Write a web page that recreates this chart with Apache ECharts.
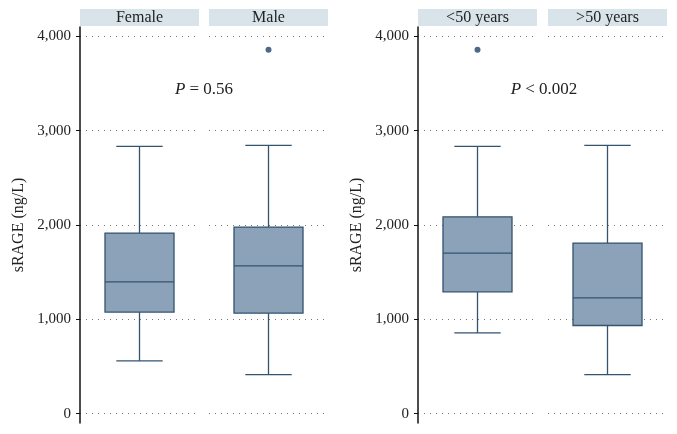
<!DOCTYPE html>
<html>
<head>
<meta charset="utf-8">
<script src="https://cdn.jsdelivr.net/npm/echarts@6/dist/echarts.min.js"></script>
<style>
  html, body { margin: 0; padding: 0; background: #fff; }
  #main { width: 677px; height: 434px; }
</style>
</head>
<body>
<div id="main"></div>
<script>
// groups (one facet each)
var groups = ['Female', 'Male', '<50 years', '>50 years'];
// box stats (ng/L)
var lowWhisker  = [559, 414, 856, 414];
var lowerQuart  = [1076, 1065, 1291, 934];
var medians     = [1397, 1567, 1702, 1228];
var upperQuart  = [1914, 1978, 2087, 1808];
var highWhisker = [2833, 2844, 2833, 2844];
// outliers: [group index, value]
var outliers = [[1, 3859], [2, 3859]];
var yTicks = [0, 1000, 2000, 3000, 4000];
var pLabels = ['{i|P} = 0.56', '{i|P} < 0.002'];

var boxFill = '#8ca2b8';
var boxLine = '#33536f';
var font = '"Liberation Serif", "DejaVu Serif", serif';

var myChart = echarts.init(document.getElementById('main'));

// facet left edges, width of each facet
var lefts = [80, 209, 418, 548];
var facetW = 119;

var grids = [], xAxes = [], yAxes = [], series = [];
for (let i = 0; i < groups.length; i++) {
  grids.push({ left: lefts[i], width: facetW, top: 27, bottom: 11 });
  xAxes.push({
    gridIndex: i,
    type: 'category',
    position: 'top',
    data: [groups[i]],
    axisLine: { show: false },
    axisTick: { show: false },
    axisLabel: {
      margin: 1,
      fontFamily: font,
      fontSize: 16,
      color: '#222',
      width: facetW,
      lineHeight: 17,
      align: 'center',
      backgroundColor: '#d8e4ea'
    }
  });
  let first = (i % 2 === 0);
  yAxes.push({
    gridIndex: i,
    type: 'value',
    min: -100,
    max: 4100,
    name: first ? 'sRAGE (ng/L)' : '',
    nameLocation: 'middle',
    nameRotate: 90,
    nameGap: 53,
    nameTextStyle: { fontFamily: font, fontSize: 16, color: '#222' },
    axisLine: { show: first, lineStyle: { color: '#111', width: 1.5 } },
    axisTick: { show: first, length: 4, customValues: yTicks, lineStyle: { color: '#111' } },
    axisLabel: {
      show: first,
      customValues: yTicks,
      margin: 9,
      fontFamily: font,
      fontSize: 15,
      color: '#222',
      formatter: function (v) { return v.toLocaleString('en-US'); }
    },
    splitLine: {
      show: true,
      lineStyle: { color: '#777', type: [1, 5], width: 1 }
    }
  });

  // box: [cat, low, q1, med, q3, high]
  series.push({
    type: 'custom',
    xAxisIndex: i,
    yAxisIndex: i,
    data: [[0, lowWhisker[i], lowerQuart[i], medians[i], upperQuart[i], highWhisker[i]]],
    renderItem: function (params, api) {
      var x = api.coord([0, 0])[0];
      var band = api.size([1, 0])[0];
      var bw = band * 0.58, cw = band * 0.39;
      var yLow = api.coord([0, api.value(1)])[1];
      var yQ1 = api.coord([0, api.value(2)])[1];
      var yMed = api.coord([0, api.value(3)])[1];
      var yQ3 = api.coord([0, api.value(4)])[1];
      var yHigh = api.coord([0, api.value(5)])[1];
      var ls = { stroke: boxLine, lineWidth: 1.3 };
      return {
        type: 'group',
        children: [
          { type: 'line', shape: { x1: x, y1: yHigh, x2: x, y2: yQ3 }, style: ls },
          { type: 'line', shape: { x1: x, y1: yQ1, x2: x, y2: yLow }, style: ls },
          { type: 'line', shape: { x1: x - cw / 2, y1: yHigh, x2: x + cw / 2, y2: yHigh }, style: ls },
          { type: 'line', shape: { x1: x - cw / 2, y1: yLow, x2: x + cw / 2, y2: yLow }, style: ls },
          { type: 'rect', shape: { x: x - bw / 2, y: yQ3, width: bw, height: yQ1 - yQ3 },
            style: { fill: boxFill, stroke: boxLine, lineWidth: 1.3 } },
          { type: 'line', shape: { x1: x - bw / 2, y1: yMed, x2: x + bw / 2, y2: yMed }, style: ls }
        ]
      };
    }
  });

  var outs = outliers.filter(function (o) { return o[0] === i; })
    .map(function (o) { return [0, o[1]]; });
  series.push({
    type: 'scatter',
    xAxisIndex: i,
    yAxisIndex: i,
    symbolSize: 6,
    itemStyle: { color: '#1f4468' },
    data: outs
  });
}

var pStyle = function (txt) {
  return {
    text: txt,
    rich: { i: { fontStyle: 'italic', fontFamily: font, fontSize: 17 } },
    font: '17px ' + font, fill: '#222', align: 'center', verticalAlign: 'middle'
  };
};

var option = {
  animation: false,
  backgroundColor: '#fff',
  grid: grids,
  xAxis: xAxes,
  yAxis: yAxes,
  series: series,
  graphic: [
    { type: 'text', x: 204, y: 90, style: pStyle(pLabels[0]) },
    { type: 'text', x: 544, y: 90, style: pStyle(pLabels[1]) }
  ]
};

myChart.setOption(option);
</script>
</body>
</html>
